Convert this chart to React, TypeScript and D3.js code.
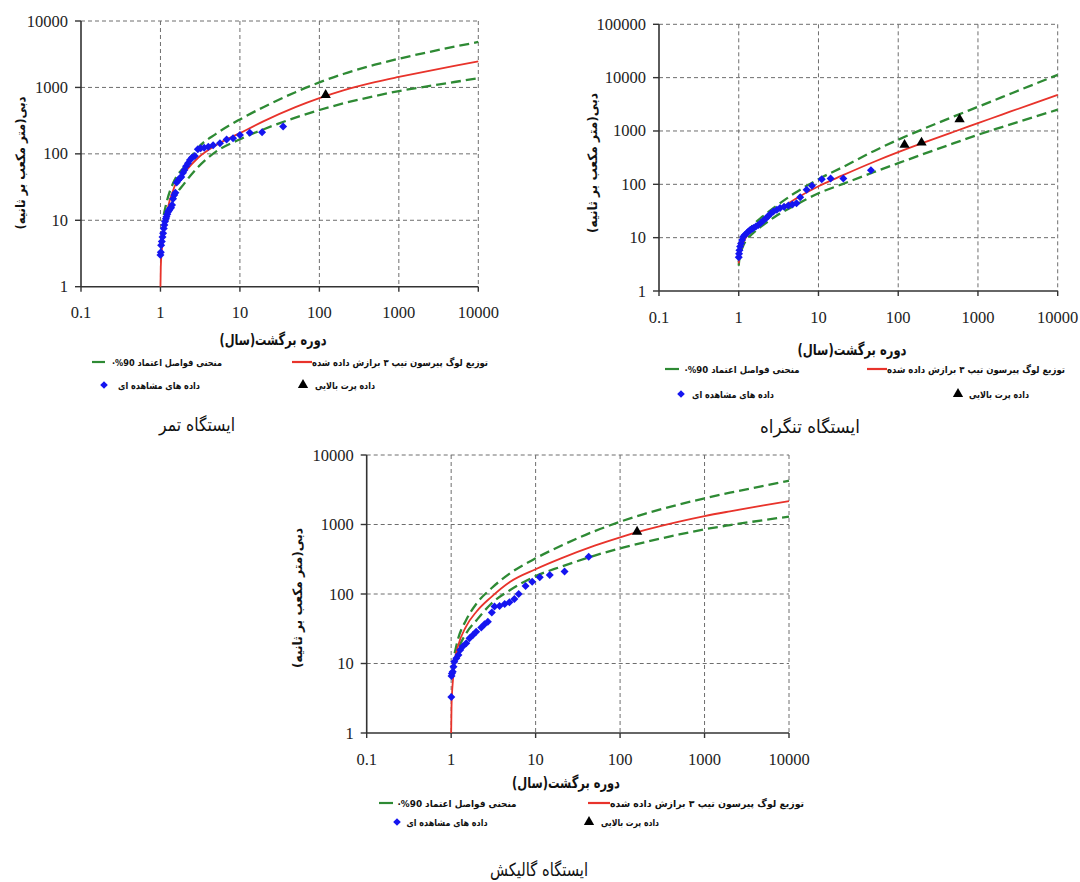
import React from "react";
import * as d3 from "d3";

const curveT = [1, 1.01, 1.05, 1.1, 1.2, 1.5, 2, 3, 5, 10, 20, 50, 100, 200, 500, 1000, 2000, 5000, 10000];

// Tamar station
const tamarFit = [1, 2, 4, 7, 13, 32, 52, 88, 135, 205, 311, 505, 690, 904, 1202, 1439, 1706, 2116, 2473];
const tamarUpper = [null, null, null, 12, 19, 40, 64, 125, 200, 330, 508, 848, 1191, 1594, 2196, 2704, 3258, 4099, 4836];
const tamarLower = [null, null, null, null, 11, 22, 36, 64, 108, 166, 235, 351, 457, 575, 743, 883, 1014, 1207, 1372];
const tamarObsT = [1.0, 1.01, 1.02, 1.04, 1.06, 1.08, 1.1, 1.12, 1.14, 1.17, 1.19, 1.22, 1.25, 1.28, 1.32, 1.36, 1.4, 1.44, 1.49, 1.54, 1.6, 1.67, 1.75, 1.83, 1.92, 2.0, 2.1, 2.22, 2.35, 2.5, 2.7, 2.95, 3.2, 3.55, 4.0, 4.6, 5.6, 6.8, 8.2, 10, 13.3, 19, 35];
const tamarObsQ = [3.0, 3.3, 4.2, 4.8, 5.6, 6.4, 7.5, 8.5, 9.6, 10.5, 11.3, 12.3, 13.4, 14, 15, 15.5, 17, 21, 24, 26, 37, 40, 43, 45, 52, 57, 65, 72, 81, 88, 93, 117, 121, 124, 128, 135, 144, 164, 172, 192, 208, 212, 257];
const tamarOutT = [120];
const tamarOutQ = [770];

// Tangrah station
const tangrahFit = [3.3, 4, 5.5, 7, 9.5, 14, 20, 31.5, 52, 92, 147, 265, 400, 590, 968, 1400, 2028, 3304, 4750];
const tangrahUpper = [3.5, 4.2, 6, 8, 11, 17, 25, 40, 68, 125, 209, 423, 687, 1071, 1874, 2840, 4306, 7460, 11300];
const tangrahLower = [3.0, 3.6, 4.8, 6.2, 8.3, 12, 17, 26, 40, 68, 101, 170, 249, 363, 590, 849, 1184, 1821, 2506];
const tangrahObsT = [1.0, 1.01, 1.02, 1.04, 1.07, 1.1, 1.14, 1.19, 1.26, 1.32, 1.39, 1.46, 1.53, 1.64, 1.76, 1.9, 2.04, 2.2, 2.35, 2.5, 2.72, 3.0, 3.3, 3.7, 4.2, 4.7, 5.3, 5.9, 7.1, 8.3, 11, 14.2, 20.5, 45.5];
const tangrahObsQ = [4.3, 5.0, 5.8, 6.8, 7.8, 9.0, 10.4, 11.2, 12.1, 13.0, 13.9, 14.5, 15.2, 16.2, 17.3, 19.0, 21.0, 23.0, 25.5, 28, 31, 33.5, 36, 38, 40, 42, 44, 57, 79, 94, 125, 128, 128, 183];
const tangrahOutT = [120, 196, 588];
const tangrahOutQ = [550, 605, 1660];

// Galikesh station
const galikeshFit = [1, 2.4, 5.8, 10.6, 17.5, 34, 56, 91, 150, 227, 325, 496, 655, 834, 1099, 1320, 1548, 1886, 2174];
const galikeshUpper = [null, null, null, 14, 22, 42, 73, 121, 199, 326, 494, 803, 1096, 1437, 1944, 2377, 2867, 3604, 4256];
const galikeshLower = [null, null, null, 11, 15.6, 27, 42, 73, 114, 181, 247, 357, 455, 560, 718, 853, 980, 1156, 1300];
const galikeshObsT = [1.005, 1.01, 1.02, 1.045, 1.065, 1.09, 1.15, 1.22, 1.28, 1.37, 1.51, 1.65, 1.81, 1.98, 2.27, 2.48, 2.72, 3.03, 3.26, 3.74, 4.3, 4.9, 5.6, 6.3, 7.6, 9.1, 11.2, 14.7, 22, 42.5];
const galikeshObsQ = [3.3, 6.6, 7.2, 7.6, 9, 10.6, 11.9, 13.3, 15.6, 17.5, 19.5, 23, 25.7, 28.7, 33, 36.6, 40, 54, 66, 67, 72, 76, 85, 100, 130, 150, 174, 188, 210, 344];
const galikeshOutT = [159];
const galikeshOutQ = [788];

// tick values and labels
const xTicks = [0.1, 1, 10, 100, 1000, 10000];
const yTicks4 = [1, 10, 100, 1000, 10000];
const yTicks5 = [1, 10, 100, 1000, 10000, 100000];

const stationNames = ["ایستگاه تمر", "ایستگاه تنگراه", "ایستگاه گالیکش"];
const xTitle = "دوره برگشت(سال)";
const yTitle = "دبی(متر مکعب بر ثانیه)";
const fitLabel = "توزیع لوگ پیرسون تیپ ۳ برازش داده شده";
const confLabel = "منحنی فواصل اعتماد 90%·";
const obsLabel = "داده های مشاهده ای";
const outLabel = "داده پرت بالایی";

const RED = "#e8332b";
const GREEN = "#2e8a34";
const BLUE = "#1515f0";
const FA = "'DejaVu Sans', sans-serif";
const NUM = '"Times New Roman", "Liberation Serif", "DejaVu Serif", serif';

const panels = [
  {
    name: stationNames[0], fit: tamarFit, upper: tamarUpper, lower: tamarLower,
    obsT: tamarObsT, obsQ: tamarObsQ, outT: tamarOutT, outQ: tamarOutQ, yTicks: yTicks4,
    x0: 81, x1: 478.3, yTop: 21, yBot: 286.7,
    yTitle: [20, 163, 133], xTitle: [273, 340, 107], station: [197, 424, 76],
    rows: [362, 385], confLine: [92, 105], confText: [167, 110], fitLine: [292, 312], fitText: [400, 176],
    obsMark: 104, obsText: [159, 82], outMark: 303, outText: [345, 60],
  },
  {
    name: stationNames[1], fit: tangrahFit, upper: tangrahUpper, lower: tangrahLower,
    obsT: tangrahObsT, obsQ: tangrahObsQ, outT: tangrahOutT, outQ: tangrahOutQ, yTicks: yTicks5,
    x0: 659, x1: 1057.7, yTop: 24.3, yBot: 291,
    yTitle: [592, 163, 140], xTitle: [852, 350, 109], station: [810, 426, 100],
    rows: [369, 394], confLine: [665, 679], confText: [742, 115], fitLine: [867, 887], fitText: [976, 178],
    obsMark: 681, obsText: [733, 82], outMark: 958, outText: [999, 60],
  },
  {
    name: stationNames[2], fit: galikeshFit, upper: galikeshUpper, lower: galikeshLower,
    obsT: galikeshObsT, obsQ: galikeshObsQ, outT: galikeshOutT, outQ: galikeshOutQ, yTicks: yTicks4,
    x0: 366.7, x1: 789, yTop: 455, yBot: 733,
    yTitle: [297, 598, 140], xTitle: [566, 783, 108], station: [539, 869, 98],
    rows: [803, 822], confLine: [379, 393], confText: [457, 119], fitLine: [588, 610], fitText: [707, 194],
    obsMark: 397, obsText: [447, 81], outMark: 589, outText: [630, 58],
  },
];

function diamond(r) {
  return `M0,${-r}L${r},0L0,${r}L${-r},0Z`;
}

const triangle = d3.symbol(d3.symbolTriangle, 46)();

function FaText({ x, y, w, size, bold = true, rotate = false, children }) {
  const transform = rotate ? `translate(${x},${y}) rotate(-90)` : `translate(${x},${y})`;
  return (
    <text
      transform={transform}
      textAnchor="middle"
      dominantBaseline="central"
      direction="rtl"
      style={{ fontFamily: FA }}
      fontWeight={bold ? "bold" : "normal"}
      fontSize={size}
      textLength={w}
      lengthAdjust="spacingAndGlyphs"
      fill="#111"
    >
      {children}
    </text>
  );
}

function Panel({ p }) {
  const x = d3.scaleLog().domain([0.1, 10000]).range([p.x0, p.x1]);
  const y = d3.scaleLog().domain([1, p.yTicks[p.yTicks.length - 1]]).range([p.yBot, p.yTop]);

  const line = d3
    .line()
    .defined(d => d[1] != null)
    .x(d => x(d[0]))
    .y(d => y(d[1]))
    .curve(d3.curveMonotoneX);

  const series = vals => curveT.map((t, i) => [t, vals[i]]);

  return (
    <g>
      {/* grid */}
      {xTicks.slice(1).map(t => (
        <line key={"gx" + t} x1={x(t)} x2={x(t)} y1={p.yTop} y2={p.yBot} stroke="#6e6e6e" strokeWidth={1} strokeDasharray="4 3" />
      ))}
      {p.yTicks.slice(1).map(t => (
        <line key={"gy" + t} x1={p.x0} x2={p.x1} y1={y(t)} y2={y(t)} stroke="#6e6e6e" strokeWidth={1} strokeDasharray="4 3" />
      ))}

      {/* axes */}
      <line x1={p.x0} x2={p.x0} y1={p.yTop} y2={p.yBot} stroke="#333" strokeWidth={1.6} />
      <line x1={p.x0} x2={p.x1} y1={p.yBot} y2={p.yBot} stroke="#333" strokeWidth={1.6} />
      {xTicks.map(t => (
        <g key={"tx" + t}>
          <line x1={x(t)} x2={x(t)} y1={p.yBot} y2={p.yBot + 5} stroke="#333" strokeWidth={1.4} />
          <text x={x(t)} y={p.yBot + 26} textAnchor="middle" dominantBaseline="central" style={{ fontFamily: NUM }} fontSize={16.5} fill="#222">
            {t}
          </text>
        </g>
      ))}
      {p.yTicks.map(t => (
        <g key={"ty" + t}>
          <line x1={p.x0 - 6} x2={p.x0} y1={y(t)} y2={y(t)} stroke="#333" strokeWidth={1.4} />
          <text x={p.x0 - 13} y={y(t)} textAnchor="end" dominantBaseline="central" style={{ fontFamily: NUM }} fontSize={16.5} fill="#222">
            {t}
          </text>
        </g>
      ))}

      {/* curves */}
      <path d={line(series(p.upper))} fill="none" stroke={GREEN} strokeWidth={2.3} strokeDasharray="10 5" />
      <path d={line(series(p.lower))} fill="none" stroke={GREEN} strokeWidth={2.3} strokeDasharray="10 5" />
      <path d={line(series(p.fit))} fill="none" stroke={RED} strokeWidth={1.8} />

      {/* observed */}
      {p.obsT.map((t, i) => (
        <path key={"o" + i} d={diamond(4)} transform={`translate(${x(t)},${y(p.obsQ[i])})`} fill={BLUE} />
      ))}
      {p.outT.map((t, i) => (
        <path key={"u" + i} d={triangle} transform={`translate(${x(t)},${y(p.outQ[i])})`} fill="#000" />
      ))}

      {/* titles */}
      <FaText x={p.yTitle[0]} y={p.yTitle[1]} w={p.yTitle[2]} size={13} rotate>{yTitle}</FaText>
      <FaText x={p.xTitle[0]} y={p.xTitle[1]} w={p.xTitle[2]} size={15}>{xTitle}</FaText>

      {/* legend */}
      <line x1={p.confLine[0]} x2={p.confLine[1]} y1={p.rows[0]} y2={p.rows[0]} stroke={GREEN} strokeWidth={2.2} />
      <FaText x={p.confText[0]} y={p.rows[0]} w={p.confText[1]} size={9.5}>{confLabel}</FaText>
      <line x1={p.fitLine[0]} x2={p.fitLine[1]} y1={p.rows[0]} y2={p.rows[0]} stroke={RED} strokeWidth={2.2} />
      <FaText x={p.fitText[0]} y={p.rows[0]} w={p.fitText[1]} size={9.5}>{fitLabel}</FaText>
      <path d={diamond(3.8)} transform={`translate(${p.obsMark},${p.rows[1]})`} fill={BLUE} />
      <FaText x={p.obsText[0]} y={p.rows[1]} w={p.obsText[1]} size={9.5}>{obsLabel}</FaText>
      <path d={triangle} transform={`translate(${p.outMark},${p.rows[1]})`} fill="#000" />
      <FaText x={p.outText[0]} y={p.rows[1]} w={p.outText[1]} size={9.5}>{outLabel}</FaText>

      {/* station */}
      <FaText x={p.station[0]} y={p.station[1]} w={p.station[2]} size={18} bold={false}>{p.name}</FaText>
    </g>
  );
}

export default function App() {
  return (
    <div style={{ position: "absolute", left: 0, top: 0 }}>
      <svg width={1080} height={882} style={{ display: "block", background: "#fff" }}>
        {panels.map((p, i) => (
          <Panel key={i} p={p} />
        ))}
      </svg>
    </div>
  );
}
